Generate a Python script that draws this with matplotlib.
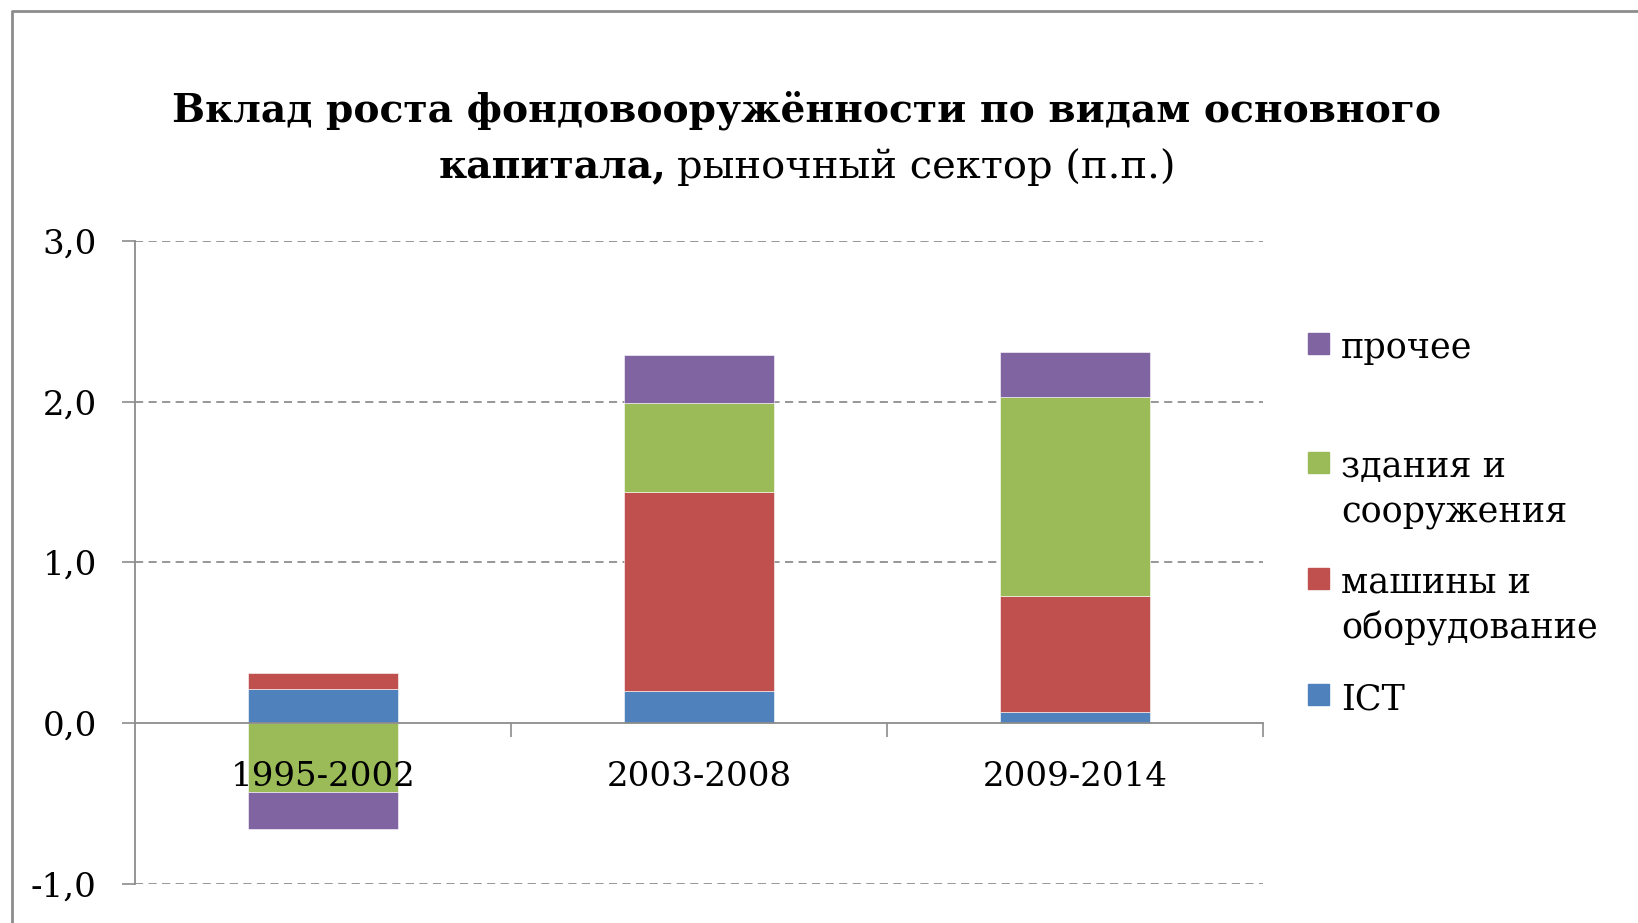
import numpy as np
import matplotlib
matplotlib.use('Agg')
import matplotlib.pyplot as plt
from matplotlib.lines import Line2D
from matplotlib.patches import Rectangle
from matplotlib.ticker import FuncFormatter

# data
periods = ['1995-2002', '2003-2008', '2009-2014']
series_names = ['ICT', 'машины и\nоборудование', 'здания и\nсооружения', 'прочее']
ict = [0.21, 0.20, 0.07]
machines = [0.10, 1.24, 0.72]
buildings = [-0.43, 0.55, 1.24]
other = [-0.23, 0.30, 0.28]
colors = ['#4F81BD', '#C0504D', '#9BBB59', '#8064A2']

W, H = 1638, 923
plt.rcParams['font.family'] = ['DejaVu Serif']

fig = plt.figure(figsize=(W / 100, H / 100), dpi=100)
ax = fig.add_axes([135 / W, 1 - 884 / H, (1263 - 135) / W, (884 - 241) / H])
ax.set_axisbelow(False)


def fy(y):
    # pixel row from top -> figure fraction
    return 1 - y / H


# stacked bars, positives and negatives stacked apart
x = np.arange(len(periods))
pos = np.zeros(len(periods))
neg = np.zeros(len(periods))
for vals, col in zip([ict, machines, buildings, other], colors):
    vals = np.array(vals)
    bottom = np.where(vals >= 0, pos, neg)
    ax.bar(x, vals, 0.397, bottom=bottom, color=col, edgecolor='white',
           linewidth=0.4, zorder=2)
    pos = pos + np.where(vals >= 0, vals, 0)
    neg = neg + np.where(vals < 0, vals, 0)

ax.set_xlim(-0.5, 2.5)
ax.set_ylim(-1, 3)

# axes styling
for s in ['top', 'right']:
    ax.spines[s].set_visible(False)
ax.spines['bottom'].set_position(('data', 0))
for s in ['left', 'bottom']:
    ax.spines[s].set_color('#8c8c8c')
    ax.spines[s].set_linewidth(1.3)

ax.set_yticks([-1, 0, 1, 2, 3])
ax.yaxis.set_major_formatter(FuncFormatter(lambda v, p: f'{v:.1f}'.replace('.', ',')))
ax.tick_params(axis='y', direction='out', length=9.5, width=1.2, color='#8c8c8c',
               pad=18, labelsize=24.5)
ax.set_xticks(x)
ax.set_xticklabels(periods)
ax.tick_params(axis='x', which='major', length=0, pad=27, labelsize=24.5)
ax.set_xticks([0.5, 1.5, 2.5], minor=True)
ax.tick_params(axis='x', which='minor', direction='out', length=10, width=1.2,
               color='#8c8c8c')

for g in [-1, 1, 2, 3]:
    ax.axhline(g, color='#8f8f8f', lw=1.3, ls=(0, (4.5, 3)), zorder=1)

# title, second line mixes bold and regular
fig.text(807 / W, fy(121), 'Вклад роста фондовооружённости по видам основного',
         ha='center', va='baseline', fontsize=28.2, weight='bold')
t1 = fig.text(0, fy(178), 'капитала,', ha='left', va='baseline', fontsize=28.2,
              weight='bold')
t2 = fig.text(0, fy(178), 'рыночный сектор (п.п.)', ha='left', va='baseline',
              fontsize=28.8)
fig.canvas.draw()
r = fig.canvas.get_renderer()
w1 = t1.get_window_extent(r).width
w2 = t2.get_window_extent(r).width
gap = 11
x0 = 807 - (w1 + gap + w2) / 2
t1.set_x(x0 / W)
t2.set_x((x0 + w1 + gap) / W)

# legend, top entry first
leg_base = [358, 477, 593, 709]
for name, col, yb in zip(series_names[::-1], colors[::-1], leg_base):
    fig.add_artist(Rectangle((1308 / W, fy(yb - 4)), 21 / W, 21 / H,
                             transform=fig.transFigure, color=col))
    for i, line in enumerate(name.split('\n')):
        fig.text(1341 / W, fy(yb + i * 46), line, ha='left', va='baseline',
                 fontsize=25.2)

# outer chart frame (left and top edges visible)
fig.add_artist(Line2D([12 / W, 12 / W, 1.01], [-0.01, fy(11), fy(11)],
                      transform=fig.transFigure, color='#8c8c8c', lw=2))

fig.savefig('out.png', dpi=100)
